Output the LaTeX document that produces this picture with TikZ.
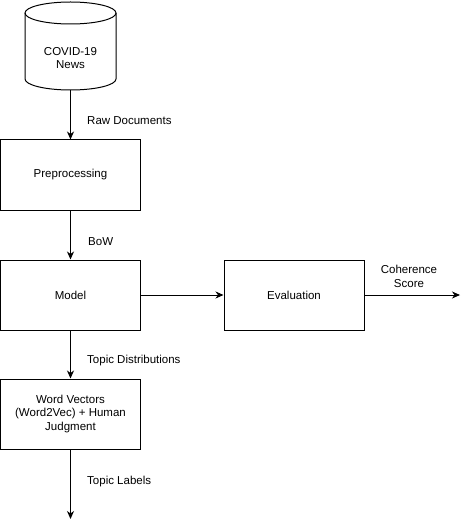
\documentclass[tikz,border=0pt]{standalone}
\usepackage{fontspec}
\setmainfont{Liberation Sans}
\usetikzlibrary{arrows.meta}
\tikzset{>={Stealth[length=8pt,width=7pt,inset=2.5pt]}}
\tikzset{
    block/.style={draw, line width=1pt, minimum width=140pt, minimum height=70pt, align=center, inner sep=2pt},
    flow/.style={->, line width=1pt},
    lbl/.style={anchor=west, inner sep=0pt}
}

\begin{document}
\begin{tikzpicture}[x=1pt, y=-1pt, font=\fontsize{11.5}{13.5}\selectfont]
    
    \useasboundingbox (0,0) rectangle (469,529);
    
    % database
    \draw [line width=1pt] (70.5,13) ellipse [x radius=45.5, y radius=11];
    \draw [line width=1pt] (25,13) -- (25,79) arc [start angle=180, end angle=0, x radius=45.5, y radius=11] -- (116,13);
    \node[align=center, inner sep=0pt] (newstxt) at (70.5,58) {COVID-19\\News};
    \coordinate (news) at (70.5,90);

    \node[block] (pre) at (70.5,175) {Preprocessing};
    \node[block] (model) at (70.5,295) {Model};
    \node[block] (eval) at (294,295) {Evaluation};
    \node[block] (wv) at (70.5,414) {Word Vectors\\(Word2Vec) + Human\\Judgment};
    \coordinate (labels) at (70.5,519);
    \coordinate (score) at (460,295);

    \draw [flow] (news) -- (pre);
    \draw [flow] (pre) -- (model);
    \draw [flow] (model) -- (wv);
    \draw [flow] (wv) -- (labels);
    \draw [flow] (model) -- (eval);
    \draw [flow] (eval) -- (score);

    \node[lbl] at (87,121) {Raw Documents};
    \node[lbl] at (88,242) {BoW};
    \node[lbl] at (87,361) {Topic Distributions};
    \node[lbl] at (87,482) {Topic Labels};
    \node[align=center, inner sep=0pt] at (409,276.5) {Coherence\\Score};

\end{tikzpicture}
\end{document}
